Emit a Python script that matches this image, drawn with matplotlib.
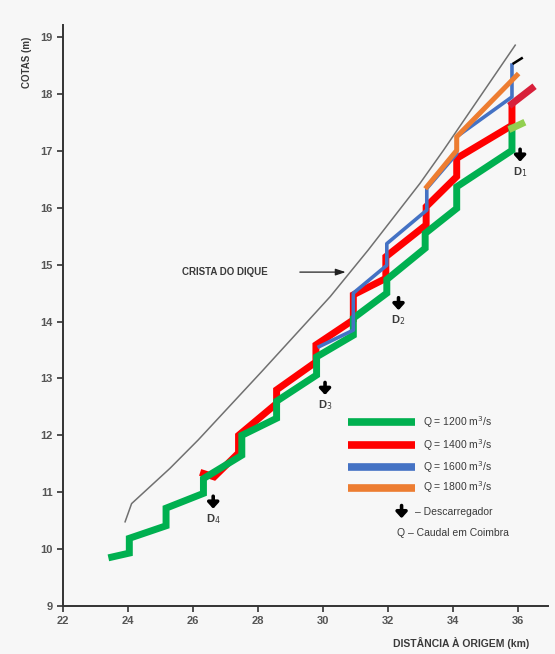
# water levels along the dike for several discharges at Coimbra
import matplotlib.pyplot as plt

plt.rcParams['font.family'] = ['Liberation Sans', 'DejaVu Sans']

# crest of the dike
crest_x = [23.91, 24.11, 25.29, 26.16, 28.11, 30.22, 31.39, 32.98, 33.70, 35.91]
crest_y = [10.48, 10.80, 11.42, 11.92, 13.12, 14.44, 15.26, 16.43, 17.01, 18.86]

# Q = 1200 m3/s
green_x = [23.50, 24.04, 24.04, 25.17, 25.17, 26.32, 26.32, 27.50, 27.50, 28.57, 28.57,
           29.80, 29.80, 30.93, 30.93, 31.96, 31.96, 33.14, 33.14, 34.11, 34.11, 35.81, 35.81]
green_y = [9.86, 9.93, 10.19, 10.41, 10.72, 10.98, 11.24, 11.65, 12.00, 12.30, 12.60,
           13.06, 13.38, 13.76, 14.06, 14.50, 14.74, 15.29, 15.55, 15.99, 16.37, 17.01, 17.40]
green_tip_x = [35.81, 36.11]
green_tip_y = [17.40, 17.48]

# Q = 1400 m3/s
red_x = [26.32, 26.65, 27.40, 27.40, 28.57, 28.57, 29.78, 29.78, 30.93, 30.93,
         31.93, 31.93, 33.17, 33.17, 34.11, 34.11, 35.81, 35.81]
red_y = [11.33, 11.27, 11.69, 12.00, 12.56, 12.80, 13.29, 13.59, 14.03, 14.47,
         14.76, 15.14, 15.70, 16.02, 16.55, 16.87, 17.45, 17.77]
red_tip_x = [35.81, 36.42]
red_tip_y = [17.83, 18.10]

# Q = 1600 m3/s
blue_x = [29.88, 30.93, 30.93, 31.96, 31.96, 33.19, 33.19, 34.11, 34.11, 35.81, 35.81]
blue_y = [13.56, 13.85, 14.50, 14.99, 15.37, 15.96, 16.34, 16.95, 17.25, 17.95, 18.51]
blue_tip_x = [35.86, 36.11]
blue_tip_y = [18.54, 18.63]

# Q = 1800 m3/s
orange_x = [33.19, 34.11, 34.11, 35.96]
orange_y = [16.37, 17.01, 17.25, 18.33]

# spillways (descarregadores)
spill_names = ['D$_1$', 'D$_2$', 'D$_3$', 'D$_4$']
spill_x = [36.06, 32.32, 30.06, 26.62]
spill_y = [16.93, 14.32, 12.83, 10.83]

legend_labels = ['Q = 1200 m$^3$/s', 'Q = 1400 m$^3$/s', 'Q = 1600 m$^3$/s', 'Q = 1800 m$^3$/s']
colors = ['#00b050', '#ff0000', '#4472c4', '#ed7d31']

txt = '#3a3a3a'
arrow_style = dict(arrowstyle='-|>,head_width=0.32,head_length=0.35',
                   lw=2.6, color='black', shrinkA=0, shrinkB=0)

fig = plt.figure(figsize=(5.55, 6.54), dpi=100, facecolor='#f7f7f7')
ax = fig.add_axes([0.1135, 0.0734, 0.874, 0.888])
ax.set_facecolor('#f7f7f7')

ax.plot(crest_x, crest_y, color='#707070', lw=1.1, zorder=2)
ax.plot(red_x, red_y, color=colors[1], lw=5, solid_joinstyle='miter', zorder=3)
ax.plot(red_tip_x, red_tip_y, color='#d8203a', lw=5, zorder=3)
ax.plot(green_x, green_y, color=colors[0], lw=5, solid_joinstyle='miter', zorder=4)
ax.plot(green_tip_x, green_tip_y, color='#92d050', lw=5, zorder=4)
ax.plot(blue_x, blue_y, color=colors[2], lw=2.6, zorder=5)
ax.plot(blue_tip_x, blue_tip_y, color='black', lw=1.8, zorder=5)
ax.plot(orange_x, orange_y, color=colors[3], lw=3.6, zorder=6)

for name, x, y in zip(spill_names, spill_x, spill_y):
    ax.annotate('', xy=(x, y - 0.12), xytext=(x, y + 0.1), arrowprops=arrow_style)
    ax.text(x, y - 0.3, name, ha='center', va='center', fontsize=8,
            fontweight='bold', color=txt)

ax.annotate('', xy=(30.78, 14.87), xytext=(29.2, 14.87),
            arrowprops=dict(arrowstyle='-|>,head_width=0.2,head_length=0.6',
                            lw=0.9, color='#222222'))
ax.text(25.66, 14.87, 'CRISTA DO DIQUE', ha='left', va='center', fontsize=7,
        fontweight='bold', color=txt)

# legend
leg_y = [0.317, 0.277, 0.240, 0.204]
for lab, c, y in zip(legend_labels, colors, leg_y):
    ax.plot([0.588, 0.726], [y, y], color=c, lw=5.5, solid_capstyle='butt',
            transform=ax.transAxes)
    ax.text(0.743, y, lab, transform=ax.transAxes, va='center', fontsize=7.5, color=txt)
ax.annotate('', xy=(0.698, 0.151), xytext=(0.698, 0.173), xycoords='axes fraction',
            arrowprops=arrow_style)
ax.text(0.726, 0.162, '– Descarregador', transform=ax.transAxes, va='center',
        fontsize=7.5, color=txt)
ax.text(0.689, 0.126, 'Q – Caudal em Coimbra', transform=ax.transAxes, va='center',
        fontsize=7.5, color=txt)

ax.set_xlim(22, 36.92)
ax.set_ylim(9, 19.21)
ax.set_xticks(range(22, 37, 2))
ax.set_yticks(range(9, 20))
ax.tick_params(direction='out', length=4, width=1.2, colors='#333333',
               labelsize=8, labelcolor='#555555')
for lbl in ax.get_xticklabels() + ax.get_yticklabels():
    lbl.set_fontweight('bold')
for side in ['top', 'right']:
    ax.spines[side].set_visible(False)
for side in ['left', 'bottom']:
    ax.spines[side].set_linewidth(1.4)
    ax.spines[side].set_color('#333333')

fig.text(0.049, 0.905, 'COTAS (m)', rotation=90, ha='center', va='center',
         fontsize=7, fontweight='bold', color=txt)
fig.text(0.83, 0.017, 'DISTÂNCIA À ORIGEM (km)', ha='center', va='center',
         fontsize=7.5, fontweight='bold', color=txt)

fig.savefig('out.png', dpi=100, facecolor=fig.get_facecolor())
